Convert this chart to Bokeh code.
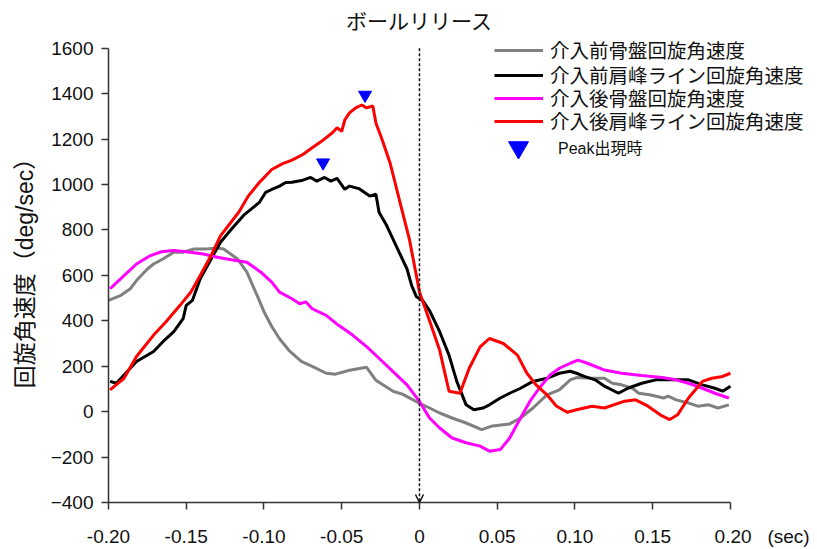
from bokeh.plotting import figure
from bokeh.models import (Range1d, FixedTicker, Legend, LegendItem, Arrow, OpenHead, Label)
from bokeh.embed import file_html
from bokeh.resources import INLINE

title_text = "ボールリリース"
y_label = "回旋角速度（deg/sec）"
x_unit = "(sec)"
x_ticks = [-0.20, -0.15, -0.10, -0.05, 0.0, 0.05, 0.10, 0.15, 0.20]
x_tick_labels = ["-0.20", "-0.15", "-0.10", "-0.05", "0", "0.05", "0.10", "0.15", "0.20"]
y_ticks = [-400, -200, 0, 200, 400, 600, 800, 1000, 1200, 1400, 1600]

names = ["介入前骨盤回旋角速度", "介入前肩峰ライン回旋角速度",
         "介入後骨盤回旋角速度", "介入後肩峰ライン回旋角速度"]
colors = ["#808080", "#000000", "#ff00ff", "#ff0000"]
peak_label = "Peak出現時"

# 介入前骨盤回旋角速度 (gray)
t_pre_pelvis = [-0.200, -0.192, -0.186, -0.182, -0.175, -0.171, -0.165, -0.158, -0.152,
                -0.145, -0.137, -0.130, -0.126, -0.117, -0.111, -0.104, -0.100, -0.095,
                -0.090, -0.084, -0.076, -0.069, -0.060, -0.054, -0.045, -0.034, -0.028,
                -0.017, -0.011, -0.001, 0.0065, 0.013, 0.021, 0.030, 0.040, 0.047, 0.058,
                0.065, 0.073, 0.082, 0.090, 0.097, 0.101, 0.111, 0.119, 0.124, 0.130,
                0.137, 0.141, 0.148, 0.157, 0.160, 0.165, 0.173, 0.179, 0.186, 0.192, 0.199]
v_pre_pelvis = [490, 512, 541, 577, 628, 650, 672, 702, 702,
                716, 716, 720, 716, 672, 614, 505, 440, 375,
                321, 270, 221, 199, 169, 165, 182, 195, 138,
                90, 77, 40, 16, -6, -28, -50, -79, -63, -54,
                -28, 16, 74, 96, 140, 150, 147, 147, 125, 118,
                103, 81, 74, 60, 68, 52, 38, 24, 30, 16, 30]

# 介入前肩峰ライン回旋角速度 (black)
t_pre_shoulder = [-0.199, -0.195, -0.190, -0.182, -0.171, -0.165, -0.158, -0.152, -0.150,
                  -0.146, -0.141, -0.134, -0.128, -0.121, -0.113, -0.103, -0.099, -0.095,
                  -0.090, -0.086, -0.082, -0.075, -0.070, -0.066, -0.061, -0.057, -0.053,
                  -0.048, -0.045, -0.039, -0.032, -0.028, -0.026, -0.021, -0.015, -0.008,
                  -0.005, -0.002, 0.002, 0.0065, 0.013, 0.019, 0.024, 0.030, 0.035, 0.041,
                  0.045, 0.052, 0.058, 0.065, 0.073, 0.082, 0.090, 0.097, 0.101, 0.106,
                  0.113, 0.119, 0.128, 0.134, 0.143, 0.152, 0.165, 0.173, 0.182, 0.190,
                  0.195, 0.200]
v_pre_shoulder = [133, 125, 161, 221, 265, 308, 352, 409, 468,
                  490, 585, 672, 746, 803, 865, 921, 965, 978,
                  993, 1009, 1010, 1019, 1031, 1015, 1031, 1015, 1027,
                  979, 993, 982, 949, 957, 878, 818, 730, 628,
                  555, 506, 490, 445, 352, 249, 133, 30, 8, 16,
                  30, 60, 81, 103, 133, 147, 169, 178, 169, 155,
                  140, 112, 81, 103, 125, 140, 140, 140, 118, 103,
                  90, 112]

# 介入後骨盤回旋角速度 (magenta)
t_post_pelvis = [-0.199, -0.190, -0.182, -0.173, -0.166, -0.158, -0.150, -0.139, -0.130,
                 -0.121, -0.111, -0.102, -0.095, -0.090, -0.082, -0.077, -0.073, -0.069,
                 -0.060, -0.052, -0.043, -0.034, -0.026, -0.017, -0.008, 0.0, 0.0065,
                 0.013, 0.021, 0.030, 0.039, 0.045, 0.052, 0.058, 0.065, 0.071, 0.077,
                 0.084, 0.090, 0.097, 0.102, 0.108, 0.119, 0.130, 0.143, 0.156, 0.165,
                 0.173, 0.182, 0.190, 0.199]
v_post_pelvis = [541, 599, 650, 687, 704, 709, 704, 694, 680,
                 669, 658, 614, 570, 526, 497, 475, 483, 453,
                 424, 380, 337, 286, 235, 176, 118, 45, -28,
                 -72, -116, -137, -152, -174, -167, -116, -28, 45, 103,
                 161, 191, 213, 227, 213, 183, 169, 159, 150, 140,
                 125, 103, 81, 60]

# 介入後肩峰ライン回旋角速度 (red)
t_post_shoulder = [-0.199, -0.190, -0.182, -0.171, -0.163, -0.154, -0.147, -0.141, -0.134,
                   -0.128, -0.116, -0.110, -0.103, -0.099, -0.095, -0.088, -0.082, -0.075,
                   -0.069, -0.063, -0.056, -0.053, -0.050, -0.048, -0.045, -0.041, -0.037,
                   -0.034, -0.030, -0.028, -0.024, -0.019, -0.013, -0.0065, -0.002, 0.0,
                   0.0065, 0.013, 0.019, 0.026, 0.032, 0.039, 0.045, 0.054, 0.063, 0.069,
                   0.075, 0.082, 0.088, 0.095, 0.101, 0.111, 0.119, 0.132, 0.139, 0.147,
                   0.156, 0.161, 0.166, 0.173, 0.182, 0.188, 0.195, 0.200]
v_post_shoulder = [96, 147, 243, 337, 396, 468, 527, 599, 687,
                   774, 880, 950, 1009, 1037, 1066, 1092, 1107, 1132,
                   1162, 1190, 1228, 1250, 1234, 1285, 1315, 1337, 1350,
                   1337, 1346, 1271, 1197, 1097, 935, 760, 599, 527,
                   400, 270, 90, 81, 191, 285, 322, 300, 249, 170,
                   118, 74, 25, -3, 8, 24, 16, 46, 52, 24,
                   -19, -35, -14, 60, 133, 147, 155, 169]

# Peak 出現時 markers
peak_t = [-0.062, -0.035]
peak_v = [1096, 1394]

# The frame runs to the right and top edges so that the legend and title are not
# clipped; the axes themselves are bounded to the reference's extents.
p = figure(width=817, height=549, output_backend="svg", toolbar_location=None,
           x_range=Range1d(-0.2, 0.256), y_range=Range1d(-400, 1810),
           min_border_left=108, min_border_right=0, min_border_top=0,
           min_border_bottom=44)
p.title.visible = False
p.outline_line_color = None
p.xgrid.visible = False
p.ygrid.visible = False
p.background_fill_color = "white"
p.border_fill_color = "white"

axis_color = "#333333"
for ax in (p.xaxis[0], p.yaxis[0]):
    ax.axis_line_color = axis_color
    ax.axis_line_width = 1.5
    ax.major_tick_line_color = axis_color
    ax.major_tick_line_width = 1.5
    ax.minor_tick_line_color = None
    ax.major_tick_in = 0
    ax.major_tick_out = 7
    ax.major_label_text_font = "Liberation Sans"
    ax.major_label_text_font_size = "19px"
    ax.major_label_text_color = "#111111"

# the unit "(sec)" follows the last tick label; left padding keeps "0.20" centred on its tick
nb = "\u00a0"
x_labels_shown = list(x_tick_labels)
x_labels_shown[-1] = nb * 12 + x_tick_labels[-1] + nb * 3 + x_unit

p.xaxis.ticker = FixedTicker(ticks=x_ticks)
p.xaxis.bounds = (x_ticks[0], x_ticks[-1])
p.xaxis.major_label_overrides = {t: l for t, l in zip(x_ticks, x_labels_shown)}
p.xaxis.major_label_standoff = 16
p.yaxis.ticker = FixedTicker(ticks=y_ticks)
p.yaxis.bounds = (y_ticks[0], y_ticks[-1])
p.yaxis.major_label_standoff = 8
# trailing padding moves the label's centre down to the middle of the bounded axis
p.yaxis.axis_label = y_label + nb * 5
p.yaxis.axis_label_text_font = "Liberation Sans, Noto Sans CJK JP"
p.yaxis.axis_label_text_font_size = "23px"
p.yaxis.axis_label_text_font_style = "normal"
p.yaxis.axis_label_text_color = "#111111"
p.yaxis.axis_label_standoff = 10

series = [(t_pre_pelvis, v_pre_pelvis), (t_pre_shoulder, v_pre_shoulder),
          (t_post_pelvis, v_post_pelvis), (t_post_shoulder, v_post_shoulder)]
renderers = [p.line(t, v, line_color=c, line_width=3) for (t, v), c in zip(series, colors)]
rp = p.scatter(peak_t, peak_v, marker="inverted_triangle", size=13,
               fill_color="#0000ff", line_color="#0000ff")

p.add_layout(Arrow(x_start=0, y_start=y_ticks[-1], x_end=0, y_end=y_ticks[0],
                   line_dash="3 2", line_width=1.5, line_color="#111111",
                   end=OpenHead(size=8, line_width=1.5, line_color="#111111")))

p.add_layout(Label(x=0, y=y_ticks[-1], y_offset=28, text=title_text,
                   text_align="center", text_baseline="middle",
                   text_font="Noto Sans CJK JP", text_font_size="21px",
                   text_color="#111111"))

row_bottoms = [438, 413, 390, 367]
for n, r, vy in zip(names, renderers, row_bottoms):
    p.add_layout(Legend(items=[LegendItem(label=n, renderers=[r])],
                        location=(386, vy), glyph_width=49, glyph_height=24, spacing=0,
                        label_standoff=7, padding=0, margin=0, border_line_color=None,
                        background_fill_alpha=0, label_text_font="Noto Sans CJK JP",
                        label_text_font_size="19.5px", label_text_color="#111111",
                        label_height=24))
p.add_layout(Legend(items=[LegendItem(label=peak_label, renderers=[rp])],
                    location=(385, 330), glyph_width=50, glyph_height=50, spacing=0,
                    label_standoff=15, padding=0, margin=0, border_line_color=None,
                    background_fill_alpha=0, label_text_font="Liberation Sans, Noto Sans CJK JP",
                    label_text_font_size="16px", label_text_color="#111111"))

open("out.html", "w").write(file_html(p, INLINE))
